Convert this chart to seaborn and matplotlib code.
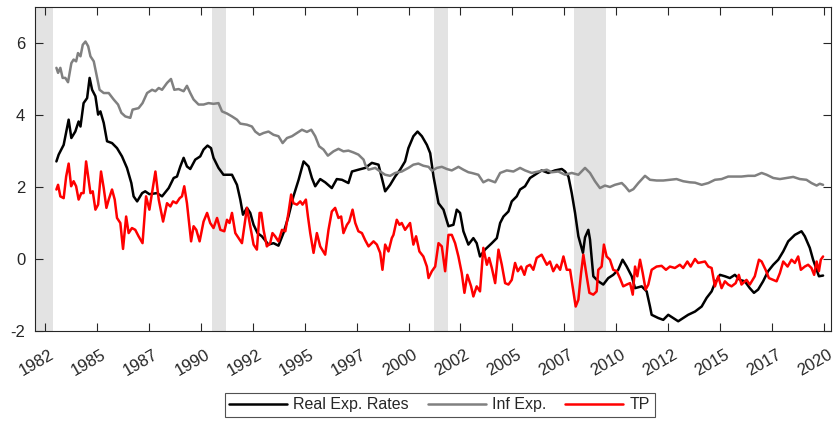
import numpy as np
import pandas as pd
import matplotlib
matplotlib.use("Agg")
import matplotlib.pyplot as plt
import matplotlib.transforms as mtransforms
import seaborn as sns

# values (year fraction, percent)
real_years = [1983.03, 1983.14, 1983.38, 1983.62, 1983.75, 1983.94, 1984.10, 1984.19, 1984.34, 1984.51,
              1984.63, 1984.75, 1984.91, 1985.04, 1985.15, 1985.31, 1985.47, 1985.71, 1985.95, 1986.19,
              1986.43, 1986.64, 1986.75, 1986.92, 1987.16, 1987.31, 1987.51, 1987.88, 1988.12, 1988.44,
              1988.68, 1988.84, 1989.00, 1989.16, 1989.32, 1989.48, 1989.72, 1989.96, 1990.12, 1990.31,
              1990.48, 1990.60, 1990.84, 1991.08, 1991.49, 1991.73, 1991.89, 1992.02, 1992.21, 1992.37,
              1992.53, 1992.72, 1992.93, 1993.25, 1993.49, 1993.73, 1993.97, 1994.21, 1994.45, 1994.70,
              1994.94, 1995.18, 1995.34, 1995.50, 1995.74, 1995.98, 1996.30, 1996.54, 1996.79, 1997.10,
              1997.27, 1997.58, 1997.91, 1998.23, 1998.55, 1998.71, 1998.87, 1999.11, 1999.35, 1999.59,
              1999.83, 1999.99, 2000.23, 2000.43, 2000.64, 2000.88, 2001.04, 2001.20, 2001.44, 2001.68,
              2001.92, 2002.16, 2002.32, 2002.48, 2002.64, 2002.88, 2003.12, 2003.28, 2003.44, 2003.68,
              2004.01, 2004.25, 2004.41, 2004.57, 2004.81, 2004.97, 2005.21, 2005.37, 2005.61, 2005.85,
              2006.09, 2006.41, 2006.73, 2007.05, 2007.38, 2007.54, 2007.70, 2007.86, 2008.02, 2008.18,
              2008.40, 2008.50, 2008.66, 2008.74, 2008.90, 2009.14, 2009.38, 2009.62, 2009.86, 2010.10,
              2010.31, 2010.51, 2010.75, 2010.91, 2011.23, 2011.47, 2011.63, 2011.71, 2012.03, 2012.27,
              2012.51, 2012.75, 2012.99, 2013.23, 2013.47, 2013.80, 2014.12, 2014.36, 2014.60, 2014.76,
              2015.00, 2015.24, 2015.48, 2015.72, 2015.96, 2016.20, 2016.44, 2016.64, 2016.84, 2017.08,
              2017.32, 2017.57, 2017.81, 2018.05, 2018.29, 2018.61, 2018.93, 2019.09, 2019.33, 2019.49,
              2019.66, 2019.77, 2019.97]
real_vals = [2.71, 2.90, 3.17, 3.87, 3.36, 3.54, 3.82, 3.68, 4.33, 4.47,
             5.03, 4.70, 4.52, 4.01, 4.10, 3.78, 3.27, 3.22, 3.08, 2.85,
             2.53, 2.11, 1.74, 1.60, 1.83, 1.88, 1.80, 1.83, 1.74, 1.97,
             2.25, 2.29, 2.57, 2.81, 2.57, 2.50, 2.76, 2.85, 3.04, 3.15,
             3.08, 2.81, 2.53, 2.34, 2.34, 2.06, 1.65, 1.23, 1.42, 1.28,
             0.95, 0.72, 0.63, 0.40, 0.44, 0.37, 0.72, 1.18, 1.74, 2.20,
             2.71, 2.57, 2.25, 2.02, 2.22, 2.13, 1.97, 2.22, 2.20, 2.11,
             2.43, 2.48, 2.53, 2.67, 2.62, 2.25, 1.88, 2.06, 2.29, 2.48,
             2.71, 3.08, 3.41, 3.54, 3.41, 3.17, 2.94, 2.29, 1.55, 1.37,
             0.91, 0.95, 1.37, 1.28, 0.77, 0.40, 0.58, 0.44, 0.07, 0.26,
             0.44, 0.58, 1.00, 1.18, 1.32, 1.60, 1.74, 1.93, 2.02, 2.25,
             2.34, 2.46, 2.39, 2.46, 2.50, 2.43, 2.29, 1.83, 1.28, 0.63,
             0.17, 0.60, 0.81, 0.54, -0.48, -0.62, -0.71, -0.53, -0.44, -0.30,
             -0.02, -0.21, -0.48, -0.81, -0.76, -0.90, -1.32, -1.55, -1.64, -1.69,
             -1.55, -1.64, -1.73, -1.64, -1.55, -1.46, -1.32, -1.08, -0.90, -0.67,
             -0.44, -0.48, -0.53, -0.44, -0.58, -0.62, -0.81, -0.94, -0.85, -0.62,
             -0.34, -0.16, -0.02, 0.21, 0.49, 0.67, 0.77, 0.63, 0.31, -0.02,
             -0.30, -0.48, -0.46]

inf_years = [1983.03, 1983.11, 1983.22, 1983.33, 1983.46, 1983.59, 1983.75, 1983.86, 1983.98, 1984.07,
             1984.19, 1984.30, 1984.43, 1984.56, 1984.67, 1984.83, 1984.99, 1985.11, 1985.31, 1985.55,
             1985.79, 1986.00, 1986.16, 1986.35, 1986.59, 1986.70, 1986.99, 1987.18, 1987.40, 1987.64,
             1987.80, 1987.96, 1988.12, 1988.36, 1988.55, 1988.71, 1988.92, 1989.16, 1989.32, 1989.48,
             1989.64, 1989.88, 1990.12, 1990.36, 1990.60, 1990.84, 1991.01, 1991.25, 1991.49, 1991.73,
             1991.89, 1992.21, 1992.45, 1992.61, 1992.82, 1993.01, 1993.25, 1993.49, 1993.73, 1993.93,
             1994.14, 1994.38, 1994.62, 1994.86, 1995.10, 1995.31, 1995.50, 1995.69, 1995.90, 1996.11,
             1996.38, 1996.62, 1996.86, 1997.10, 1997.34, 1997.58, 1997.83, 1997.91, 1998.07, 1998.39,
             1998.63, 1998.87, 1999.11, 1999.35, 1999.67, 1999.99, 2000.23, 2000.47, 2000.71, 2000.96,
             2001.12, 2001.36, 2001.60, 2001.84, 2002.08, 2002.40, 2002.64, 2002.88, 2003.04, 2003.36,
             2003.60, 2003.84, 2004.17, 2004.41, 2004.73, 2005.05, 2005.37, 2005.61, 2005.93, 2006.25,
             2006.66, 2006.90, 2007.21, 2007.54, 2007.86, 2008.18, 2008.50, 2008.74, 2008.98, 2009.22,
             2009.46, 2009.70, 2009.94, 2010.27, 2010.43, 2010.63, 2010.83, 2011.07, 2011.39, 2011.63,
             2011.95, 2012.27, 2012.59, 2012.91, 2013.23, 2013.55, 2013.80, 2014.12, 2014.44, 2014.76,
             2015.08, 2015.40, 2015.72, 2016.04, 2016.36, 2016.68, 2017.01, 2017.25, 2017.57, 2017.89,
             2018.21, 2018.53, 2018.85, 2019.17, 2019.41, 2019.66, 2019.81, 2019.97]
inf_vals = [5.31, 5.17, 5.31, 5.03, 5.03, 4.91, 5.44, 5.54, 5.49, 5.72,
            5.63, 5.95, 6.04, 5.91, 5.63, 5.49, 5.03, 4.70, 4.61, 4.61,
            4.43, 4.29, 4.06, 3.96, 3.92, 4.15, 4.19, 4.33, 4.61, 4.70,
            4.66, 4.75, 4.70, 4.89, 5.00, 4.70, 4.72, 4.66, 4.81, 4.61,
            4.43, 4.29, 4.29, 4.33, 4.31, 4.33, 4.10, 4.04, 3.96, 3.87,
            3.76, 3.73, 3.68, 3.54, 3.45, 3.50, 3.54, 3.45, 3.41, 3.22,
            3.36, 3.41, 3.50, 3.59, 3.53, 3.59, 3.41, 3.13, 3.04, 2.87,
            2.99, 3.06, 2.99, 3.01, 2.96, 2.90, 2.76, 2.62, 2.48, 2.53,
            2.43, 2.34, 2.31, 2.39, 2.43, 2.53, 2.62, 2.65, 2.59, 2.56,
            2.45, 2.53, 2.56, 2.50, 2.46, 2.56, 2.48, 2.41, 2.39, 2.34,
            2.13, 2.20, 2.13, 2.39, 2.46, 2.43, 2.53, 2.46, 2.39, 2.43,
            2.48, 2.41, 2.43, 2.34, 2.39, 2.34, 2.53, 2.39, 2.16, 1.97,
            2.04, 2.00, 2.06, 2.11, 2.02, 1.88, 1.94, 2.11, 2.31, 2.20,
            2.18, 2.18, 2.20, 2.22, 2.16, 2.13, 2.12, 2.06, 2.11, 2.20,
            2.22, 2.29, 2.29, 2.29, 2.31, 2.31, 2.39, 2.34, 2.25, 2.22,
            2.25, 2.28, 2.22, 2.20, 2.11, 2.04, 2.09, 2.06]

tp_years = [1983.03, 1983.11, 1983.22, 1983.38, 1983.50, 1983.62, 1983.74, 1983.86, 1983.98, 1984.10,
            1984.23, 1984.34, 1984.46, 1984.58, 1984.67, 1984.78, 1984.91, 1985.04, 1985.18, 1985.31,
            1985.44, 1985.55, 1985.71, 1985.84, 1985.95, 1986.11, 1986.24, 1986.39, 1986.51, 1986.67,
            1986.83, 1986.99, 1987.18, 1987.35, 1987.51, 1987.80, 1987.96, 1988.17, 1988.36, 1988.52,
            1988.65, 1988.81, 1988.97, 1989.08, 1989.19, 1989.32, 1989.52, 1989.64, 1989.77, 1989.93,
            1990.12, 1990.29, 1990.44, 1990.60, 1990.77, 1990.93, 1991.12, 1991.25, 1991.37, 1991.49,
            1991.65, 1991.81, 1991.97, 1992.21, 1992.37, 1992.53, 1992.69, 1992.82, 1992.90, 1993.01,
            1993.17, 1993.33, 1993.44, 1993.57, 1993.73, 1993.90, 1994.06, 1994.21, 1994.34, 1994.45,
            1994.62, 1994.78, 1994.89, 1995.05, 1995.15, 1995.26, 1995.42, 1995.58, 1995.74, 1995.98,
            1996.14, 1996.30, 1996.46, 1996.62, 1996.75, 1996.86, 1997.03, 1997.14, 1997.30, 1997.43,
            1997.58, 1997.75, 1997.91, 1998.07, 1998.31, 1998.47, 1998.63, 1998.74, 1998.87, 1999.03,
            1999.19, 1999.27, 1999.43, 1999.56, 1999.67, 1999.83, 2000.07, 2000.23, 2000.36, 2000.52,
            2000.71, 2000.88, 2000.96, 2001.12, 2001.28, 2001.44, 2001.60, 2001.76, 2001.92, 2002.08,
            2002.24, 2002.40, 2002.56, 2002.69, 2002.83, 2003.01, 2003.12, 2003.28, 2003.44, 2003.60,
            2003.77, 2003.88, 2004.01, 2004.17, 2004.33, 2004.49, 2004.65, 2004.81, 2004.97, 2005.13,
            2005.26, 2005.42, 2005.58, 2005.69, 2005.85, 2006.01, 2006.17, 2006.41, 2006.66, 2006.81,
            2006.97, 2007.14, 2007.30, 2007.46, 2007.62, 2007.78, 2007.94, 2008.05, 2008.18, 2008.31,
            2008.42, 2008.58, 2008.71, 2008.90, 2009.06, 2009.14, 2009.30, 2009.41, 2009.54, 2009.70,
            2009.86, 2010.03, 2010.18, 2010.34, 2010.51, 2010.67, 2010.80, 2010.91, 2011.02, 2011.15,
            2011.28, 2011.42, 2011.55, 2011.71, 2011.95, 2012.19, 2012.40, 2012.59, 2012.83, 2013.07,
            2013.23, 2013.43, 2013.59, 2013.80, 2013.95, 2014.28, 2014.44, 2014.60, 2014.76, 2014.92,
            2015.08, 2015.24, 2015.40, 2015.56, 2015.76, 2015.91, 2016.04, 2016.28, 2016.44, 2016.68,
            2016.88, 2017.01, 2017.20, 2017.36, 2017.57, 2017.73, 2017.89, 2018.05, 2018.26, 2018.45,
            2018.61, 2018.77, 2018.90, 2019.09, 2019.25, 2019.41, 2019.54, 2019.66, 2019.77, 2019.86,
            2019.97]
tp_vals = [1.93, 2.06, 1.74, 1.69, 2.29, 2.65, 2.02, 2.16, 2.02, 1.65,
           1.83, 1.83, 2.71, 2.20, 1.83, 1.88, 1.37, 1.51, 2.43, 1.97,
           1.42, 1.65, 1.93, 1.65, 1.14, 1.00, 0.28, 1.18, 0.72, 0.86,
           0.81, 0.63, 0.44, 1.74, 1.37, 2.43, 1.65, 1.04, 1.55, 1.46,
           1.60, 1.55, 1.69, 1.74, 2.02, 1.55, 0.49, 0.91, 0.81, 0.49,
           1.04, 1.28, 1.00, 0.86, 1.14, 0.81, 0.77, 1.09, 1.00, 1.28,
           0.72, 0.58, 0.44, 1.42, 0.91, 0.40, 0.26, 1.28, 1.28, 0.81,
           0.35, 0.44, 0.72, 0.63, 0.49, 0.81, 0.77, 1.28, 1.79, 1.55,
           1.51, 1.60, 1.51, 1.65, 1.18, 0.72, 0.17, 0.72, 0.35, 0.12,
           0.81, 1.32, 1.42, 1.14, 1.18, 0.72, 0.95, 1.04, 1.37, 1.00,
           0.77, 0.72, 0.52, 0.35, 0.49, 0.40, 0.17, -0.30, 0.40, 0.21,
           0.58, 0.67, 1.09, 0.95, 1.00, 0.81, 1.00, 0.40, 0.63, 0.21,
           0.07, -0.21, -0.53, -0.34, -0.21, 0.44, 0.35, -0.34, 0.67, 0.67,
           0.44, 0.07, -0.39, -0.94, -0.44, -0.76, -1.04, -0.76, -0.90, 0.31,
           -0.16, 0.03, -0.25, -0.67, 0.26, -0.16, -0.67, -0.71, -0.58, -0.11,
           -0.34, -0.21, -0.44, -0.21, -0.16, -0.30, 0.03, 0.12, -0.16, -0.07,
           -0.34, -0.16, -0.30, 0.07, -0.30, -0.30, -0.90, -1.32, -1.13, -0.39,
           0.12, -0.48, -0.94, -0.99, -0.90, -0.30, -0.21, 0.40, 0.07, -0.02,
           -0.30, -0.34, -0.53, -0.76, -0.71, -0.67, -0.99, -0.21, -0.48, -0.02,
           -0.39, -0.85, -0.71, -0.30, -0.21, -0.19, -0.30, -0.21, -0.25, -0.16,
           -0.25, -0.07, -0.21, 0.00, -0.11, -0.07, -0.21, -0.25, -0.76, -0.48,
           -0.81, -0.62, -0.71, -0.76, -0.67, -0.44, -0.71, -0.58, -0.71, -0.48,
           -0.02, -0.07, -0.30, -0.53, -0.58, -0.62, -0.39, -0.07, -0.21, -0.02,
           -0.11, 0.07, -0.30, -0.21, -0.16, -0.25, -0.44, -0.07, -0.34, -0.02,
           0.07]

# NBER recessions (start, end)
rec_start = [1981.5, 1990.55, 2001.2, 2007.95]
rec_end = [1982.88, 1991.2, 2001.9, 2009.5]

tick_pos = [1982.5 + 2.5 * i for i in range(16)]
tick_labels = [str(int(t)) for t in tick_pos]

sns.set_style("white")
plt.rcParams['font.family'] = ['Liberation Sans', 'DejaVu Sans']

fig = plt.figure(figsize=(8.38, 4.23), dpi=100)
ax = fig.add_axes([0.0418, 0.2175, 0.9498, 0.766])

for s, e in zip(rec_start, rec_end):
    ax.axvspan(s, e, color="#e3e3e3", lw=0, zorder=0)

sns.lineplot(x=real_years, y=real_vals, color="black", linewidth=1.8, label="Real Exp. Rates", ax=ax)
sns.lineplot(x=inf_years, y=inf_vals, color="#808080", linewidth=1.8, label="Inf Exp.", ax=ax)
sns.lineplot(x=tp_years, y=tp_vals, color="red", linewidth=1.8, label="TP", ax=ax)

ax.set_xlim(1982.0, 2020.35)
ax.set_ylim(-2, 7)
ax.set_xticks(tick_pos)
ax.set_xticklabels(tick_labels, rotation=30, ha="right", rotation_mode="anchor")
ax.set_yticks([-2, 0, 2, 4, 6])
ax.set_yticklabels(["-2", "0", "2", "4", "6"])
ax.tick_params(direction="in", length=6, width=0.8, color="#262626", labelcolor="#262626",
               labelsize=12, top=True, right=True, bottom=True, left=True)
ax.tick_params(axis="x", pad=4)
ax.tick_params(axis="y", pad=7)
ax.set_xlabel("")
ax.set_ylabel("")
for sp in ax.spines.values():
    sp.set_color("#262626")
    sp.set_linewidth(0.8)

# nudge rotated year labels to sit like the original
shift = mtransforms.ScaledTranslation(0.04, -0.10, fig.dpi_scale_trans)
for lab in ax.get_xticklabels():
    lab.set_transform(lab.get_transform() + shift)

handles, labels = ax.get_legend_handles_labels()
ax.get_legend().remove()
leg = fig.legend(handles, labels, loc="lower center", bbox_to_anchor=(0.5245, -0.005), ncol=3,
                 fontsize=11.5, frameon=True, fancybox=False, handlelength=3.6, columnspacing=1.2,
                 handletextpad=0.4, borderpad=0.3, edgecolor="#262626")
leg.get_frame().set_linewidth(0.8)

fig.savefig("out.png", dpi=100)
